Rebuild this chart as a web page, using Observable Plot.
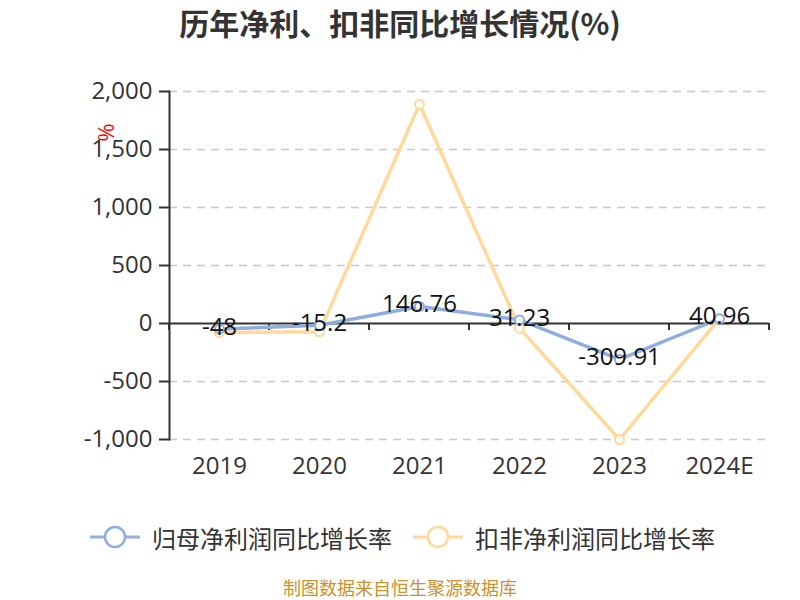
<!DOCTYPE html>
<html>
<head>
<meta charset="utf-8">
<script src="https://cdn.jsdelivr.net/npm/d3@7"></script>
<script src="https://cdn.jsdelivr.net/npm/@observablehq/plot@0.6"></script>
<style>
  body { margin: 0; background: #fff; font-family: "Open Sans", "Noto Sans CJK SC", sans-serif; }
  #wrap { width: 800px; height: 600px; position: relative; overflow: hidden; }
  #title { height: 50px; line-height: 44px; text-align: center; font-family: "Noto Sans CJK SC", sans-serif; font-weight: bold; font-size: 30px; color: #333; }
  #chart { height: 450px; }
  #legend { height: 74px; display: flex; align-items: center; font-family: "Noto Sans CJK SC", sans-serif; font-size: 24px; color: #333; }
  .item { display: flex; align-items: center; position: absolute; }
  #footer { height: 26px; line-height: 26px; text-align: center; font-family: "Noto Sans CJK SC", sans-serif; font-size: 18px; color: #c8922c; }
</style>
</head>
<body>
<div id="wrap">
  <div id="title">历年净利、扣非同比增长情况(%)</div>
  <div id="chart"></div>
  <div id="legend"></div>
  <div id="footer">制图数据来自恒生聚源数据库</div>
</div>
<script>
const years = ["2019", "2020", "2021", "2022", "2023", "2024E"];
const netProfitGrowth = [-48, -15.2, 146.76, 31.23, -309.91, 40.96];
const deductedGrowth = [-78, -72, 1890, -40, -1000, 43];
const seriesNames = ["归母净利润同比增长率", "扣非净利润同比增长率"];
const seriesColors = ["#8eaee0", "#ffd99a"];
const yTicks = [-1000, -500, 0, 500, 1000, 1500, 2000];
const yGrid = [-1000, -500, 500, 1000, 1500, 2000];

const blue = years.map((y, i) => ({year: y, value: netProfitGrowth[i]}));
const orange = years.map((y, i) => ({year: y, value: deductedGrowth[i]}));

const fmt = d => d.toLocaleString("en-US");

// category-boundary ticks on the zero axis, placed via the x and y scales
function boundaryTicks(index, scales, values, dims) {
  const g = d3.create("svg:g");
  const step = scales.x(years[1]) - scales.x(years[0]);
  const y0 = scales.y(0);
  const xs = years.map(y => scales.x(y) - step / 2);
  xs.push(scales.x(years[years.length - 1]) + step / 2);
  for (const x of xs) {
    g.append("line").attr("x1", x).attr("x2", x).attr("y1", y0).attr("y2", y0 + 7)
      .attr("stroke", "#333").attr("stroke-width", 2);
  }
  return g.node();
}

const plot = Plot.plot({
  width: 800,
  height: 450,
  marginTop: 41,
  marginBottom: 61,
  marginLeft: 169,
  marginRight: 31,
  style: {fontFamily: "'Open Sans', sans-serif", fontSize: "24px", color: "#333", background: "transparent"},
  x: {type: "point", domain: years, padding: 0.5},
  y: {domain: [-1000, 2000]},
  marks: [
    Plot.gridY(yGrid, {stroke: "#c8c8c8", strokeOpacity: 1, strokeWidth: 1.5, strokeDasharray: "8,6"}),
    Plot.axisY({ticks: yTicks, tickFormat: fmt, tickSize: 10, tickPadding: 7, stroke: "#333", strokeWidth: 2, fill: "#333", label: null, fontSize: 24}),
    Plot.axisX({tickSize: 0, tickPadding: 17, fill: "#333", label: null, fontSize: 24}),
    Plot.frame({anchor: "left", stroke: "#333", strokeWidth: 2}),
    Plot.ruleY([0], {stroke: "#333", strokeWidth: 2}),
    boundaryTicks,
    Plot.line(orange, {x: "year", y: "value", stroke: seriesColors[1], strokeWidth: 3.5}),
    Plot.line(blue, {x: "year", y: "value", stroke: seriesColors[0], strokeWidth: 3.5}),
    Plot.dot(orange, {x: "year", y: "value", r: 4.5, fill: "white", stroke: seriesColors[1], strokeWidth: 2}),
    Plot.dot(blue, {x: "year", y: "value", r: 4.5, fill: "white", stroke: seriesColors[0], strokeWidth: 2}),
    Plot.text(blue, {x: "year", y: "value", text: d => String(d.value), fill: "#111", fontSize: 24, dy: -2}),
    Plot.text(["%"], {frameAnchor: "top-left", dx: -56, dy: 32, rotate: 90, fill: "red", fontSize: 22})
  ]
});
document.getElementById("chart").appendChild(plot);

// legend
const legend = document.getElementById("legend");
const legendX = [90, 413];
seriesNames.forEach((name, i) => {
  const item = document.createElement("div");
  item.className = "item";
  item.style.left = legendX[i] + "px";
  const c = seriesColors[i];
  item.innerHTML = `<svg width="60" height="30" style="margin-right:2px"><line x1="0" x2="50" y1="15" y2="15" stroke="${c}" stroke-width="3"/><circle cx="25" cy="15" r="10" fill="white" stroke="${c}" stroke-width="2.5"/></svg><span>${name}</span>`;
  legend.appendChild(item);
});
</script>
</body>
</html>
